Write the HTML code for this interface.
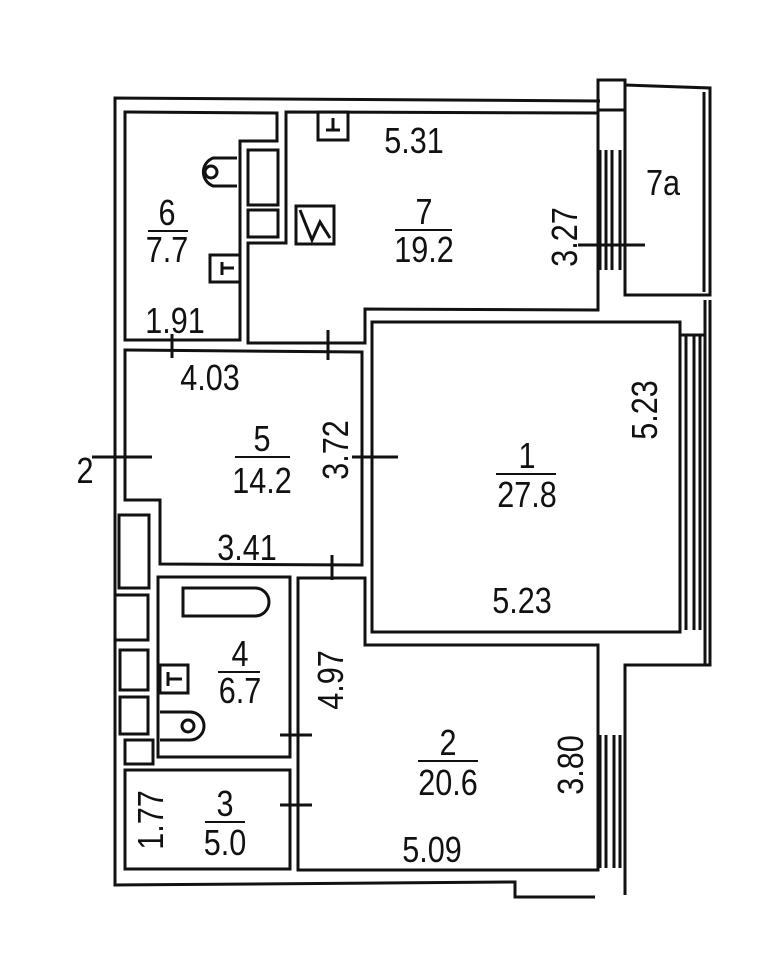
<!DOCTYPE html>
<html><head><meta charset="utf-8"><style>
html,body{margin:0;padding:0;background:#fff;}
svg{display:block}
text{font-family:"Liberation Sans",sans-serif;font-size:36px;fill:#111;text-anchor:middle;}
</style></head><body>
<svg width="778" height="960" viewBox="0 0 778 960" xmlns="http://www.w3.org/2000/svg">
<g fill="none" stroke="#111" stroke-width="3">
<path d="M600 101 L115 98 L115 885 L515 882 L515 897 L595 897"/>
<path d="M625 895 L625 665 L710 665 L710 300"/>
<rect x="598" y="80" width="27" height="30"/>
<path d="M625 85 L710 88 L710 295 L625 295 Z"/>
<path d="M704 92 L704 292"/>
<path d="M125 112 L277 113 L277 141 L240 141 L240 340 L125 340 Z"/>
<path d="M286 112 L598 113 L598 310 L365 309 L365 343 L248 343 L248 243 L286 243 Z"/>
<path d="M598 110 L598 310"/>
<path d="M600 150 L600 270 M606 150 L606 270 M612 150 L612 270 M620 150 L620 270"/>
<path d="M125 350 L362 352 L362 565 L160 564 L160 500 L125 500 Z"/>
<path d="M372 322 L680 322 L680 632 L372 632 Z"/>
<path d="M680 335 L705 335 L705 630 M686 335 L686 630 M694 335 L694 630 M700 335 L700 630"/>
<path d="M705 300 L705 665"/>
<path d="M158 577 L290 577 L290 757 L158 757 Z"/>
<path d="M125 770 L290 770 L290 869 L125 869 Z"/>
<path d="M298 578 L365 578 L365 645 L598 645 L598 870 L298 870 Z"/>
<path d="M600 735 L600 868 M606 735 L606 868 M614 735 L614 868 M620 735 L620 868"/>
<rect x="119" y="515" width="30" height="73"/>
<path d="M115 595 L148 595 L148 640 L115 640"/>
<rect x="120" y="650" width="28" height="40"/>
<rect x="120" y="697" width="28" height="37"/>
<rect x="125" y="740" width="28" height="24"/>
<rect x="248" y="150" width="30" height="55"/>
<rect x="248" y="210" width="30" height="27"/>
<path d="M237 158 L213 158 A15 15 0 0 0 213 186 L237 186"/>
<circle cx="211" cy="172" r="6"/>
<rect x="210" y="255" width="30" height="27"/>
<path d="M222 262 L222 275 M222 268 L234 268"/>
<rect x="318" y="112" width="30" height="28"/>
<path d="M333 118 L333 130 M326 130 L340 130"/>
<rect x="296" y="206" width="38" height="38"/>
<path d="M300 210 L312 240 L320 222 L330 238"/>
<path d="M183 588 L255 588 A14 14 0 0 1 255 616 L183 616 Z"/>
<rect x="160" y="665" width="28" height="28"/>
<path d="M168 672 L168 686 M168 679 L182 679"/>
<path d="M160 712 L190 712 A14 14 0 0 1 190 740 L160 740"/>
<circle cx="188" cy="726" r="6"/>
<path d="M172 334 L172 358 M328 330 L328 360 M92 457 L152 457 M352 457 L398 457 M332 555 L332 580 M280 735 L312 735 M280 805 L312 805 M578 245 L645 245"/>
</g>
<g stroke="#111" stroke-width="2">
<line x1="148" y1="231" x2="188" y2="231"/>
<line x1="395" y1="230" x2="452" y2="230"/>
<line x1="235" y1="457" x2="290" y2="457"/>
<line x1="496" y1="474" x2="556" y2="474"/>
<line x1="218" y1="672" x2="260" y2="672"/>
<line x1="418" y1="761" x2="478" y2="761"/>
<line x1="205" y1="822" x2="245" y2="822"/>
</g>
<g transform="translate(167,225) scale(.85,1)"><text>6</text></g>
<g transform="translate(167,262) scale(.85,1)"><text>7.7</text></g>
<g transform="translate(414,153) scale(.85,1)"><text>5.31</text></g>
<g transform="translate(424,224) scale(.85,1)"><text>7</text></g>
<g transform="translate(424,262) scale(.85,1)"><text>19.2</text></g>
<g transform="translate(663,195) scale(.85,1)"><text>7a</text></g>
<g transform="translate(577,237) rotate(-90) scale(.85,1)"><text>3.27</text></g>
<g transform="translate(175,333) scale(.85,1)"><text>1.91</text></g>
<g transform="translate(210,390) scale(.85,1)"><text>4.03</text></g>
<g transform="translate(262,451) scale(.85,1)"><text>5</text></g>
<g transform="translate(262,493) scale(.85,1)"><text>14.2</text></g>
<g transform="translate(348,450) rotate(-90) scale(.85,1)"><text>3.72</text></g>
<g transform="translate(527,468) scale(.85,1)"><text>1</text></g>
<g transform="translate(527,507) scale(.85,1)"><text>27.8</text></g>
<g transform="translate(657,410) rotate(-90) scale(.85,1)"><text>5.23</text></g>
<g transform="translate(247,560) scale(.85,1)"><text>3.41</text></g>
<g transform="translate(522,613) scale(.85,1)"><text>5.23</text></g>
<g transform="translate(85,483) scale(.85,1)"><text>2</text></g>
<g transform="translate(240,666) scale(.85,1)"><text>4</text></g>
<g transform="translate(240,703) scale(.85,1)"><text>6.7</text></g>
<g transform="translate(343,680) rotate(-90) scale(.85,1)"><text>4.97</text></g>
<g transform="translate(448,755) scale(.85,1)"><text>2</text></g>
<g transform="translate(448,795) scale(.85,1)"><text>20.6</text></g>
<g transform="translate(583,765) rotate(-90) scale(.85,1)"><text>3.80</text></g>
<g transform="translate(225,816) scale(.85,1)"><text>3</text></g>
<g transform="translate(225,855) scale(.85,1)"><text>5.0</text></g>
<g transform="translate(163,820) rotate(-90) scale(.85,1)"><text>1.77</text></g>
<g transform="translate(432,862) scale(.85,1)"><text>5.09</text></g>
</svg>
</body></html>
